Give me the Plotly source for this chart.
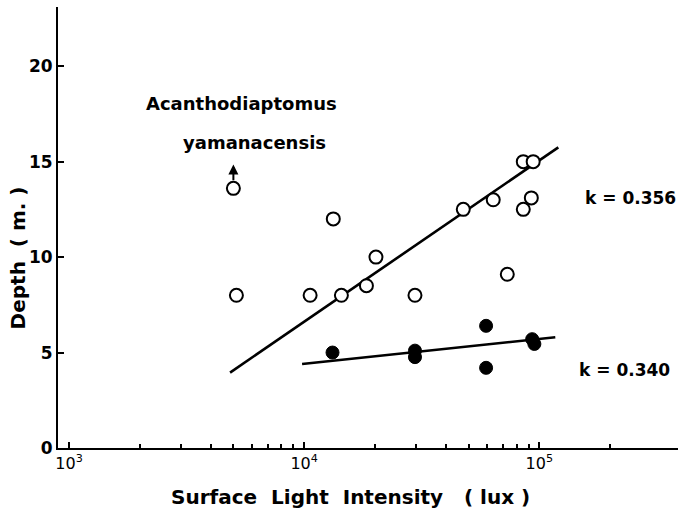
import numpy as np
import plotly.graph_objects as go

# Open circles: depth of the population vs. surface light intensity
open_lux = [5000, 5150, 10600, 13300, 14400, 18400, 20200, 29600,
            47500, 63700, 85500, 94200, 92500, 85500, 73100]
open_depth = [13.6, 8.0, 8.0, 12.0, 8.0, 8.5, 10.0, 8.0,
              12.5, 13.0, 15.0, 15.0, 13.1, 12.5, 9.1]

# Filled circles
filled_lux = [13200, 29600, 29600, 59400, 59400, 93300, 95300]
filled_depth = [5.0, 5.1, 4.76, 6.4, 4.2, 5.7, 5.45]

# Fitted lines (end points)
fit_upper_lux = [4840, 120500]
fit_upper_depth = [3.95, 15.75]
fit_lower_lux = [9800, 117000]
fit_lower_depth = [4.4, 5.8]

# Axis ticks
x_major = [1e3, 1e4, 1e5]
x_major_text = ["10<sup>3</sup>", "10<sup>4</sup>", "10<sup>5</sup>"]
x_minor = [m * 10 ** d for d in (3, 4) for m in range(2, 10)] + [2e5]
y_ticks = [0, 5, 10, 15, 20]

FONT = "DejaVu Sans"
INK = "black"

fig = go.Figure()
fig.add_trace(go.Scatter(x=fit_upper_lux, y=fit_upper_depth, mode="lines",
                         line=dict(color=INK, width=2.6), hoverinfo="skip"))
fig.add_trace(go.Scatter(x=fit_lower_lux, y=fit_lower_depth, mode="lines",
                         line=dict(color=INK, width=2.6), hoverinfo="skip"))
fig.add_trace(go.Scatter(x=open_lux, y=open_depth, mode="markers",
                         marker=dict(symbol="circle", size=13, color="white",
                                     line=dict(color=INK, width=2))))
fig.add_trace(go.Scatter(x=filled_lux, y=filled_depth, mode="markers",
                         marker=dict(symbol="circle", size=13, color=INK,
                                     line=dict(color=INK, width=1))))

# Arrow above the shallow-light point
fig.add_annotation(x=np.log10(open_lux[0]), y=14.85,
                   ax=np.log10(open_lux[0]), ay=13.95,
                   xref="x", yref="y", axref="x", ayref="y",
                   showarrow=True, arrowhead=2, arrowsize=1, arrowwidth=2,
                   arrowcolor=INK, text="")

bold = dict(family=FONT, size=18, color=INK, weight="bold")
fig.add_annotation(x=3.732, y=18.06, xref="x", yref="y",
                   text="Acanthodiaptomus", showarrow=False, font=bold)
fig.add_annotation(x=3.787, y=16.0, xref="x", yref="y",
                   text="yamanacensis", showarrow=False, font=bold)
fig.add_annotation(x=1.0, y=13.1, xref="paper", yref="y", xanchor="right",
                   text="k = 0.356", showarrow=False, font=dict(bold, size=17))
fig.add_annotation(x=0.99, y=4.1, xref="paper", yref="y", xanchor="right",
                   text="k = 0.340", showarrow=False, font=dict(bold, size=17))

# Axis titles
fig.add_annotation(x=-0.0645, y=0.43, xref="paper", yref="paper",
                   xanchor="center", yanchor="middle",
                   text="Depth  ( m. )", textangle=-90, showarrow=False,
                   font=dict(bold, size=20))
fig.add_annotation(x=0.471, y=-0.111, xref="paper", yref="paper",
                   xanchor="center", yanchor="middle",
                   text="Surface  Light  Intensity   ( lux )", showarrow=False,
                   font=dict(bold, size=20))

fig.update_xaxes(type="log", range=[2.953, 5.59],
                 tickvals=x_major, ticktext=x_major_text,
                 ticks="inside", ticklen=6, tickwidth=2, tickcolor=INK,
                 minor=dict(tickvals=x_minor, ticks="inside", ticklen=4,
                            tickwidth=1.5, tickcolor=INK),
                 showline=True, linecolor=INK, linewidth=2,
                 showgrid=False, zeroline=False,
                 tickfont=dict(family=FONT, size=16, color=INK))
fig.update_yaxes(range=[0, 23.1], tickvals=y_ticks,
                 ticks="inside", ticklen=6, tickwidth=2, tickcolor=INK,
                 showline=True, linecolor=INK, linewidth=2,
                 showgrid=False, zeroline=False,
                 tickfont=dict(family=FONT, size=17, color=INK, weight="bold"))

fig.update_layout(width=678, height=518, showlegend=False,
                  margin=dict(l=58, r=0, t=7, b=70),
                  plot_bgcolor="white", paper_bgcolor="white")

fig.write_html("out.html")
